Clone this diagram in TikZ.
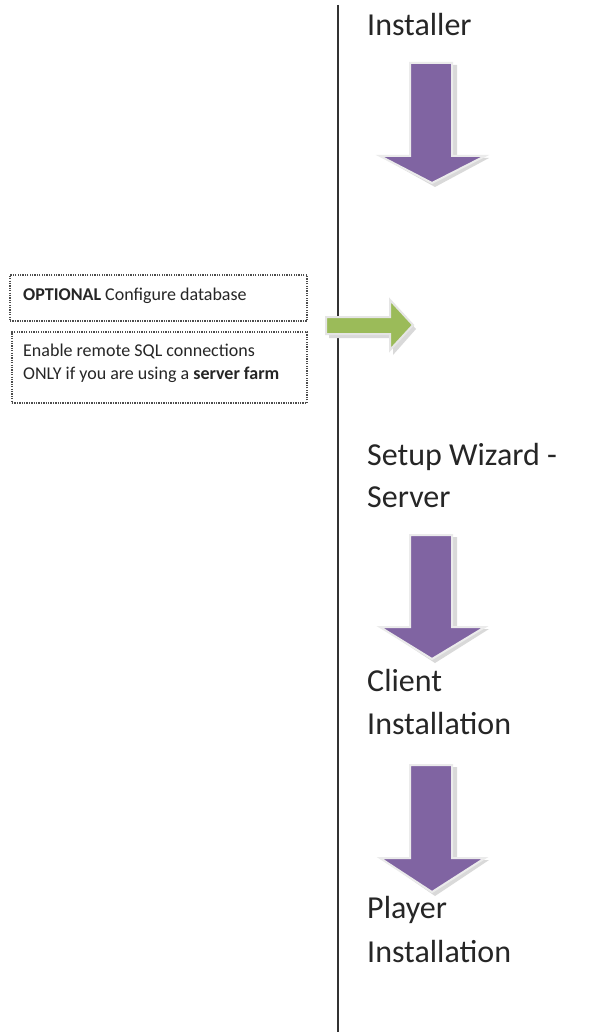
\documentclass[tikz,border=0pt]{standalone}
\usepackage{fontspec}
\setmainfont{Carlito}
\begin{document}
\begin{tikzpicture}[x=1pt,y=-1pt,
  bigtxt/.style={anchor=base west,inner sep=0pt,font=\fontsize{32}{38}\selectfont,text=black!85},
  smalltxt/.style={anchor=base west,inner sep=0pt,font=\fontsize{18}{21}\selectfont,text=black!85},
  dotbox/.style={draw=black!70,line width=1.6pt,dash pattern=on 1.3pt off 1.1pt,inner sep=0pt},
  purplearrow/.style={fill=purpleA,draw=white!92!black,line width=2pt,line join=miter},
  arrowshadow/.style={fill=black!15,draw=none},
  greenarrow/.style={fill=greenA,draw=white!90!black,line width=2pt,line join=miter}
]
\definecolor{purpleA}{HTML}{8064A2}
\definecolor{greenA}{HTML}{9BBB59}
\useasboundingbox (0,0) rectangle (599,1032);
\fill[white] (0,0) rectangle (599,1032);

% vertical divider
\coordinate (ltop) at (338,5);
\coordinate (lbot) at (338,1032);
\draw[black!80,line width=1.4pt] (ltop) -- (lbot);

% texts on the right
\node[bigtxt] (inst) at (367,36) {Installer};
\node[bigtxt] (setup1) at (367,465) {Setup Wizard -};
\node[bigtxt] (setup2) at (367,507) {Server};
\node[bigtxt] (client1) at (367,691) {Client};
\node[bigtxt] (client2) at (367,734) {Installation};
\node[bigtxt] (player1) at (367,918) {Player};
\node[bigtxt] (player2) at (367,962) {Installation};

% purple down arrows
\foreach \t/\b/\p in {63/156/183, 535/627/659, 765/858/892}{
  \fill[arrowshadow] (414,\t+2) -- (457,\t+2) -- (457,\b+2) -- (489,\b+2) -- (435,\p+4) -- (383,\b+2) -- (414,\b+2) -- cycle;
  \draw[purplearrow] (410,\t) -- (452,\t) -- (452,\b) -- (485,\b) -- (432,\p) -- (380,\b) -- (410,\b) -- cycle;
}

% left boxes
\node[dotbox,minimum width=297pt,minimum height=46pt] (box1) at (158.5,298) {};
\node[dotbox,minimum width=295pt,minimum height=71pt] (box2) at (159.5,367.5) {};
\node[smalltxt] (t1) at (23,300) {\textbf{OPTIONAL} Configure database};
\node[smalltxt] (t2) at (23,356) {Enable remote SQL connections};
\node[smalltxt] (t3) at (23,379) {ONLY if you are using a \textbf{server farm}};

% green arrow
\fill[arrowshadow] (329,320) -- (393,320) -- (393,303) -- (416,329) -- (393,355) -- (393,338) -- (329,338) -- cycle;
\draw[greenarrow] (326,317) -- (390,317) -- (390,300) -- (413,325) -- (390,350) -- (390,334) -- (326,334) -- cycle;
\end{tikzpicture}
\end{document}
